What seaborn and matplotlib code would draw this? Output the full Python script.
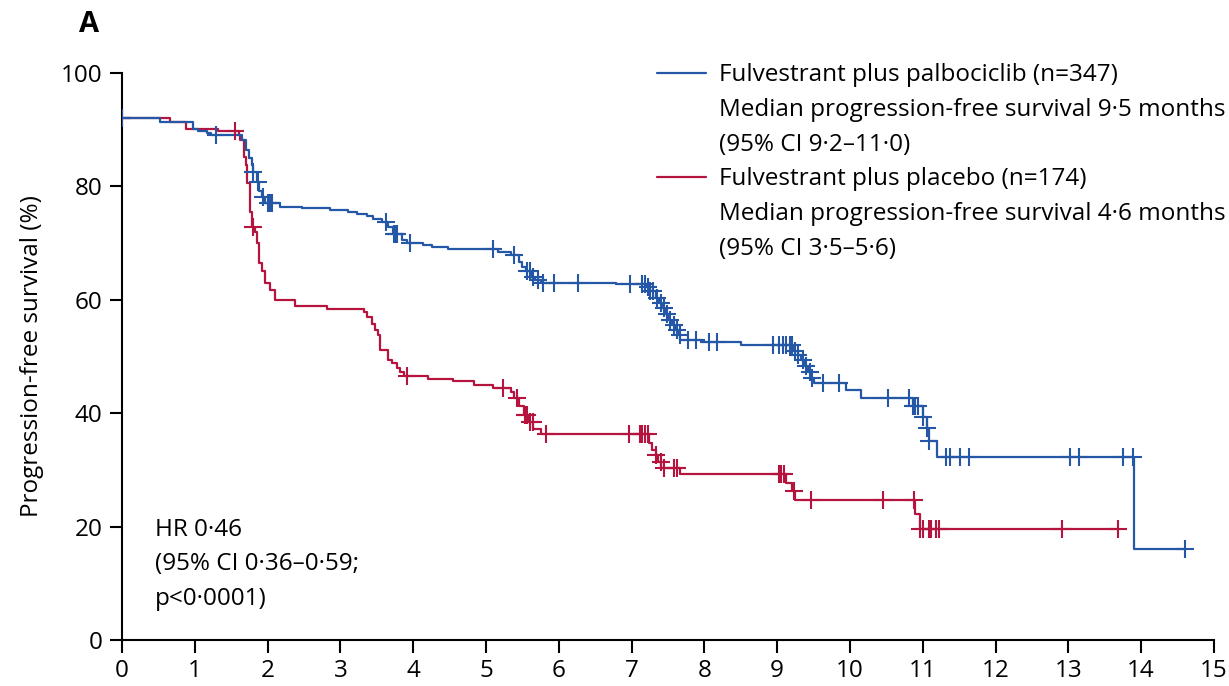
import numpy as np
import pandas as pd
import matplotlib
matplotlib.use("Agg")
import matplotlib.pyplot as plt
import seaborn as sns
from matplotlib.lines import Line2D

# ---- data (time in months, survival in %) ----
palbo_times = [0, 0.52, 0.98, 1.05, 1.17, 1.22, 1.65, 1.70, 1.75, 1.78, 1.80, 1.85, 1.88, 1.92,
               1.97, 2.17, 2.47, 2.86, 3.10, 3.23, 3.37, 3.45, 3.57, 3.65, 3.72, 3.85, 3.92,
               4.14, 4.26, 4.48, 5.17, 5.35, 5.45, 5.50, 5.55, 5.62, 5.68, 5.75, 6.78, 7.20,
               7.25, 7.33, 7.38, 7.42, 7.46, 7.52, 7.55, 7.60, 7.65, 7.67, 7.97, 8.50, 9.23,
               9.28, 9.33, 9.38, 9.42, 9.46, 9.50, 9.94, 10.15, 10.86, 11.01, 11.06, 11.09,
               11.19, 13.90, 14.60]
palbo_surv = [92.0, 91.4, 90.2, 89.8, 89.4, 89.1, 88.2, 86.4, 85.0, 83.8, 82.6, 80.8, 79.1, 78.2,
              77.1, 76.4, 76.1, 75.8, 75.5, 75.1, 74.7, 74.3, 73.8, 72.9, 71.6, 70.5, 70.0,
              69.7, 69.3, 68.9, 68.5, 67.9, 66.7, 65.8, 65.0, 64.1, 63.5, 63.0, 62.7, 62.3,
              61.6, 60.3, 59.4, 58.5, 57.5, 56.4, 55.5, 54.6, 53.8, 52.9, 52.6, 52.0, 51.0,
              50.2, 49.3, 48.3, 47.2, 46.2, 45.3, 44.1, 42.6, 41.3, 39.4, 37.3, 35.1,
              32.2, 16.0, 16.0]
palbo_censor = [0, 1.29, 1.80, 1.87, 1.93, 2.00, 2.03, 2.06, 3.62, 3.73, 3.76, 3.78, 3.95, 5.10,
                5.38, 5.57, 5.61, 5.65, 5.71, 5.79, 5.93, 6.26, 6.98, 7.15, 7.18, 7.22, 7.26,
                7.30, 7.35, 7.40, 7.44, 7.48, 7.53, 7.58, 7.63, 7.66, 7.78, 7.88, 8.06, 8.18,
                8.94, 9.03, 9.08, 9.12, 9.17, 9.21, 9.25, 9.29, 9.35, 9.40, 9.45, 9.48, 9.63,
                9.85, 10.52, 10.81, 10.86, 10.90, 10.94, 11.01, 11.06, 11.09, 11.32, 11.37,
                11.51, 11.63, 13.02, 13.15, 13.75, 13.89, 14.60]

plac_times = [0, 0.66, 0.88, 1.32, 1.60, 1.62, 1.67, 1.70, 1.72, 1.76, 1.78, 1.82, 1.85, 1.88,
              1.92, 1.97, 2.03, 2.10, 2.38, 2.82, 3.32, 3.37, 3.43, 3.48, 3.52, 3.55, 3.66,
              3.71, 3.78, 3.82, 3.87, 4.21, 4.55, 4.83, 5.10, 5.34, 5.38, 5.45, 5.52, 5.59,
              5.65, 5.75, 7.24, 7.28, 7.33, 7.37, 7.41, 7.67, 9.12, 9.21, 9.25, 10.90, 10.96,
              13.70]
plac_surv = [92.0, 91.4, 90.2, 89.7, 89.1, 88.2, 85.2, 83.8, 80.6, 75.5, 72.9, 72.0, 70.0, 66.5,
             65.0, 62.9, 61.7, 60.0, 58.9, 58.3, 57.8, 57.0, 55.8, 54.7, 53.8, 51.1, 49.4,
             48.8, 47.9, 47.2, 46.6, 46.0, 45.6, 44.9, 44.4, 43.8, 42.7, 41.2, 39.7, 38.5,
             37.2, 36.3, 34.7, 33.5, 32.6, 31.4, 30.3, 29.3, 27.7, 26.2, 24.7, 22.2, 19.6,
             19.6]
plac_censor = [0, 1.55, 1.80, 3.92, 5.23, 5.43, 5.54, 5.57, 5.61, 5.64, 5.83, 6.96, 7.12, 7.15,
               7.18, 7.22, 7.33, 7.40, 7.44, 7.58, 7.63, 9.02, 9.05, 9.09, 9.23, 9.46, 10.45,
               10.88, 10.96, 11.01, 11.08, 11.11, 11.18, 11.23, 12.92, 13.68]

arm_names = ["Fulvestrant plus palbociclib", "Fulvestrant plus placebo"]
arm_n = [347, 174]
median_pfs = ["9·5", "4·6"]
median_ci = ["9·2–11·0", "3·5–5·6"]
hr_text = "HR 0·46\n(95% CI 0·36–0·59;\np<0·0001)"
x_ticks = list(range(0, 16))
y_ticks = [0, 20, 40, 60, 80, 100]

colors = {arm_names[0]: "#2457a6", arm_names[1]: "#b5143f"}


def surv_at(times, surv, t):
    idx = np.searchsorted(np.asarray(times), t, side="right") - 1
    return np.asarray(surv)[np.clip(idx, 0, len(surv) - 1)]


curve_df = pd.concat([
    pd.DataFrame({"time": palbo_times, "surv": palbo_surv, "arm": arm_names[0]}),
    pd.DataFrame({"time": plac_times, "surv": plac_surv, "arm": arm_names[1]}),
], ignore_index=True)
censor_df = pd.concat([
    pd.DataFrame({"time": palbo_censor, "surv": surv_at(palbo_times, palbo_surv, palbo_censor),
                  "arm": arm_names[0]}),
    pd.DataFrame({"time": plac_censor, "surv": surv_at(plac_times, plac_surv, plac_censor),
                  "arm": arm_names[1]}),
], ignore_index=True)

sns.set_theme(style="ticks")
plt.rcParams["font.family"] = ["Open Sans", "DejaVu Sans"]
plt.rcParams["text.color"] = "black"
plt.rcParams["axes.labelcolor"] = "black"
FS = 17.5

fig = plt.figure(figsize=(12.29, 6.86), dpi=100)
ax = fig.add_axes([0.0993, 0.0671, 0.8884, 0.8265])

for arm in arm_names[::-1]:
    sub = curve_df[curve_df.arm == arm]
    sns.lineplot(data=sub, x="time", y="surv", color=colors[arm], drawstyle="steps-post",
                 estimator=None, sort=False, linewidth=1.6, ax=ax, legend=False)
    csub = censor_df[censor_df.arm == arm]
    sns.scatterplot(data=csub, x="time", y="surv", color=colors[arm], marker="+", s=150,
                    linewidth=1.5, ax=ax, legend=False, zorder=3)

ax.set_xlim(0, 15)
ax.set_ylim(0, 100)
ax.set_xticks(x_ticks)
ax.set_yticks(y_ticks)
ax.set_xlabel("")
ax.set_ylabel("Progression-free survival (%)", fontsize=FS, labelpad=12, color="black")
ax.tick_params(axis="both", direction="out", length=9, width=1.5, labelsize=FS,
               colors="black", pad=5)
for side in ["top", "right"]:
    ax.spines[side].set_visible(False)
for side in ["left", "bottom"]:
    ax.spines[side].set_linewidth(1.5)
    ax.spines[side].set_color("black")

# legend
handles, labels = [], []
for i, arm in enumerate(arm_names):
    handles += [Line2D([], [], color=colors[arm], lw=1.6),
                Line2D([], [], color="none"), Line2D([], [], color="none")]
    labels += [f"{arm} (n={arm_n[i]})",
               f"Median progression-free survival {median_pfs[i]} months",
               f"(95% CI {median_ci[i]})"]
leg = ax.legend(handles, labels, loc="upper left", bbox_to_anchor=(0.49, 1.017),
                frameon=False, fontsize=FS, handlelength=2.0, handletextpad=0.55,
                labelspacing=0.44, borderpad=0, borderaxespad=0, labelcolor="black")

ax.text(0.45, 21.6, hr_text, fontsize=FS, va="top", ha="left", linespacing=1.6,
        color="black")

fig.text(0.064, 0.965, "A", fontsize=21, fontweight="bold", va="center", ha="left",
         color="black")

fig.savefig("out.png", dpi=100)
